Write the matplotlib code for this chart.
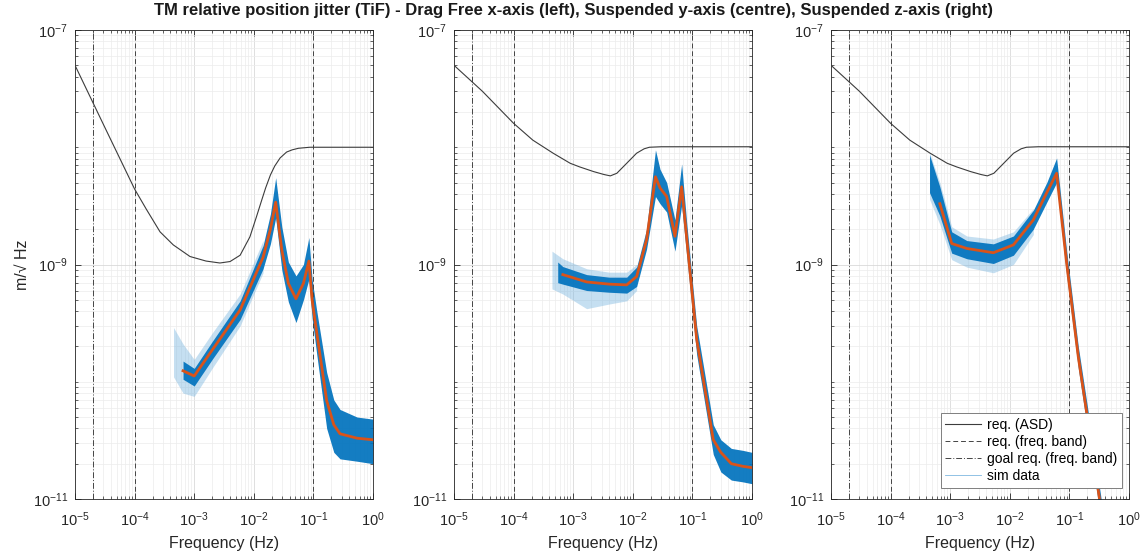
import matplotlib
matplotlib.use("Agg")
import matplotlib.pyplot as plt
from matplotlib.lines import Line2D
from matplotlib.ticker import LogLocator, NullFormatter, FixedLocator

plt.rcParams['font.family'] = ['Liberation Sans', 'DejaVu Sans']
plt.rcParams['mathtext.default'] = 'regular'

# ---------------- data ----------------
# requirement ASD (x-axis, drag free)
req_x_f = [1e-5, 3.16e-5, 1e-4, 1.58e-4, 2.67e-4, 4.45e-4, 8.5e-4, 1.58e-3, 2.7e-3, 4.0e-3, 5.9e-3, 8.6e-3,
           0.0111, 0.0136, 0.0158, 0.019, 0.0224, 0.0276, 0.0355, 0.044, 0.056, 0.087, 1.0]
req_x_v = [5.0e-8, 1.48e-8, 4.4e-9, 2.95e-9, 1.9e-9, 1.47e-9, 1.17e-9, 1.07e-9, 1.03e-9, 1.06e-9, 1.2e-9, 1.72e-9,
           2.56e-9, 3.55e-9, 4.5e-9, 5.8e-9, 6.9e-9, 8.1e-9, 9.1e-9, 9.5e-9, 9.8e-9, 1.0e-8, 1.0e-8]
# requirement ASD (suspended y / z axes)
req_yz_f = [1e-5, 3e-5, 1e-4, 2.1e-4, 4.6e-4, 8.9e-4, 1.28e-3, 2.2e-3, 3.3e-3, 4.2e-3, 5.4e-3, 7.9e-3,
            0.0116, 0.0155, 0.019, 0.03, 1.0]
req_yz_v = [5.0e-8, 3.0e-8, 1.6e-8, 1.15e-8, 8.9e-9, 7.3e-9, 6.8e-9, 6.2e-9, 5.85e-9, 5.7e-9, 6.0e-9, 7.3e-9,
            8.9e-9, 9.7e-9, 1.0e-8, 1.01e-8, 1.01e-8]

# frequency band limits
req_band = [1e-4, 1e-1]
goal_band = [2e-5, 1.0]

# panel 1 (x) mean of simulations
p1_f = [6.5e-4, 1.0e-3, 2e-3, 5.9e-3, 0.0143, 0.019, 0.0233, 0.0295, 0.038, 0.051, 0.068, 0.084,
        0.095, 0.114, 0.167, 0.22, 0.28, 0.54, 1.0]
p1_v = [1.24e-10, 1.12e-10, 1.86e-10, 4.1e-10, 1.15e-9, 2.0e-9, 3.4e-9, 1.33e-9, 6.9e-10, 5.1e-10, 6.9e-10, 1.07e-9,
        5.0e-10, 2.6e-10, 6.9e-11, 4.3e-11, 3.6e-11, 3.3e-11, 3.2e-11]
# panel 1 simulation spread
p1_bf = [6.5e-4, 1.0e-3, 2e-3, 5.9e-3, 0.0143, 0.019, 0.0233, 0.0295, 0.038, 0.051, 0.068, 0.084,
         0.095, 0.114, 0.167, 0.22, 0.28, 0.54, 1.0]
p1_hi = [1.5e-10, 1.3e-10, 2.2e-10, 4.9e-10, 1.45e-9, 2.7e-9, 5.5e-9, 2.1e-9, 1.05e-9, 8.0e-10, 1.0e-9, 1.7e-9,
         7.5e-10, 4.0e-10, 1.2e-10, 7.0e-11, 5.8e-11, 5.0e-11, 4.8e-11]
p1_lo = [1.05e-10, 9.2e-11, 1.55e-10, 3.4e-10, 9.2e-10, 1.5e-9, 2.5e-9, 9.0e-10, 4.8e-10, 3.2e-10, 5.0e-10, 7.5e-10,
         3.5e-10, 1.7e-10, 4.0e-11, 2.5e-11, 2.2e-11, 2.1e-11, 2.0e-11]
p1_of = [4.5e-4, 6.5e-4, 1e-3, 2e-3, 5.9e-3, 0.0143]
p1_ohi = [2.9e-10, 2.1e-10, 1.55e-10, 2.6e-10, 5.6e-10, 1.6e-9]
p1_olo = [1.1e-10, 8.0e-11, 7.5e-11, 1.3e-10, 3.0e-10, 8.5e-10]

# panel 2 (y)
p2_f = [6.7e-4, 1.68e-3, 4e-3, 7.9e-3, 0.0116, 0.017, 0.024, 0.0286, 0.037, 0.051, 0.066, 0.080,
        0.118, 0.224, 0.3, 0.45, 0.7, 1.0]
p2_v = [8.2e-10, 7.1e-10, 6.8e-10, 6.7e-10, 7.9e-10, 1.62e-9, 5.6e-9, 4.5e-9, 3.8e-9, 1.74e-9, 4.6e-9, 1.7e-9,
        2.3e-10, 3.2e-11, 2.5e-11, 2.0e-11, 1.9e-11, 1.85e-11]
p2_bf = [5.5e-4, 6.7e-4, 1.68e-3, 4e-3, 7.9e-3, 0.0116, 0.017, 0.024, 0.0286, 0.037, 0.051, 0.066, 0.080,
         0.118, 0.224, 0.3, 0.45, 0.7, 1.0]
p2_hi = [1.05e-9, 9.6e-10, 8.2e-10, 7.8e-10, 7.8e-10, 9.5e-10, 2.0e-9, 9.5e-9, 6.5e-9, 5.0e-9, 2.4e-9, 7.2e-9, 2.3e-9,
         3.0e-10, 4.3e-11, 3.2e-11, 2.7e-11, 2.6e-11, 2.5e-11]
p2_lo = [7.0e-10, 6.8e-10, 6.0e-10, 5.8e-10, 5.7e-10, 6.5e-10, 1.35e-9, 3.8e-9, 3.3e-9, 2.8e-9, 1.3e-9, 3.2e-9, 1.2e-9,
         1.7e-10, 2.4e-11, 1.7e-11, 1.45e-11, 1.4e-11, 1.35e-11]
p2_of = [4.4e-4, 6.7e-4, 1.68e-3, 4e-3, 7.9e-3, 0.0116]
p2_ohi = [1.3e-9, 1.12e-9, 9.2e-10, 8.6e-10, 8.6e-10, 1.0e-9]
p2_olo = [6.2e-10, 5.6e-10, 4.2e-10, 4.6e-10, 4.9e-10, 6.0e-10]

# panel 3 (z)
p3_f = [6.7e-4, 1.06e-3, 1.9e-3, 5.3e-3, 0.0115, 0.0248, 0.0417, 0.061, 0.090, 0.141, 0.2, 0.32, 1.0]
p3_v = [3.3e-9, 1.51e-9, 1.37e-9, 1.26e-9, 1.47e-9, 2.4e-9, 4.1e-9, 6.0e-9, 1.02e-9, 1.63e-10, 5.0e-11, 1.0e-11, 2e-13]
p3_bf = [4.5e-4, 6.7e-4, 1.06e-3, 1.9e-3, 5.3e-3, 0.0115, 0.0248, 0.0417, 0.061, 0.090, 0.141, 0.2, 0.32, 1.0]
p3_hi = [8.6e-9, 4.6e-9, 1.9e-9, 1.6e-9, 1.5e-9, 1.75e-9, 2.9e-9, 5.0e-9, 8.1e-9, 1.3e-9, 2.0e-10, 6.2e-11, 1.25e-11, 2.5e-13]
p3_lo = [4.1e-9, 2.6e-9, 1.25e-9, 1.12e-9, 1.02e-9, 1.2e-9, 2.0e-9, 3.4e-9, 5.0e-9, 8.0e-10, 1.3e-10, 4.0e-11, 8e-12, 1.6e-13]
p3_of = [4.5e-4, 6.7e-4, 1.06e-3, 1.9e-3, 5.3e-3, 0.0115, 0.0248]
p3_ohi = [9.0e-9, 5.0e-9, 2.1e-9, 1.75e-9, 1.65e-9, 1.9e-9, 3.0e-9]
p3_olo = [3.6e-9, 2.2e-9, 1.1e-9, 9.5e-10, 8.5e-10, 1.0e-9, 1.8e-9]

x_ticks = [1e-5, 1e-4, 1e-3, 1e-2, 1e-1, 1e0]
x_tick_labels = [r'$10^{-5}$', r'$10^{-4}$', r'$10^{-3}$', r'$10^{-2}$', r'$10^{-1}$', r'$10^{0}$']
y_ticks = [1e-11, 1e-9, 1e-7]
y_tick_labels = [r'$10^{-11}$', r'$10^{-9}$', r'$10^{-7}$']

title = ("TM relative position jitter (TiF) - Drag Free x-axis (left), "
         "Suspended y-axis (centre), Suspended z-axis (right)")

# ---------------- style ----------------
BLUE = '#0072BD'
LIGHTBLUE = '#7fb8e0'
RED = '#D95319'
REQC = '#3c3c3c'
BANDC = '#444444'

W, H = 1147, 555
fig = plt.figure(figsize=(W / 100, H / 100), dpi=100)

lefts = [75, 454, 831]
ax_w = 298
top, bottom = 30, 499

panels = [
    (req_x_f, req_x_v, p1_f, p1_v, p1_bf, p1_lo, p1_hi, p1_of, p1_olo, p1_ohi),
    (req_yz_f, req_yz_v, p2_f, p2_v, p2_bf, p2_lo, p2_hi, p2_of, p2_olo, p2_ohi),
    (req_yz_f, req_yz_v, p3_f, p3_v, p3_bf, p3_lo, p3_hi, p3_of, p3_olo, p3_ohi),
]

axes = []
for i, (rf, rv, mf, mv, bf, blo, bhi, of, olo, ohi) in enumerate(panels):
    ax = fig.add_axes([lefts[i] / W, (H - bottom) / H, ax_w / W, (bottom - top) / H])
    axes.append(ax)
    ax.set_xscale('log')
    ax.set_yscale('log')
    ax.set_xlim(1e-5, 1.0)
    ax.set_ylim(1e-11, 1e-7)

    # grids
    ax.set_axisbelow(True)
    ax.grid(True, which='major', color='#d9d9d9', lw=0.6)
    ax.grid(True, which='minor', color='#ececec', lw=0.5)

    # simulation spread
    ax.fill_between(of, olo, ohi, color=LIGHTBLUE, alpha=0.45, lw=0)
    ax.fill_between(bf, blo, bhi, color=BLUE, alpha=0.92, lw=0)
    # mean
    ax.plot(mf, mv, color=RED, lw=2.0, zorder=4)
    # requirement
    ax.plot(rf, rv, color=REQC, lw=0.8, zorder=5)
    # bands
    for b in req_band:
        ax.axvline(b, color=BANDC, lw=0.7, ls=(0, (5, 3)), zorder=3)
    for b in goal_band:
        ax.axvline(b, color=BANDC, lw=0.7, ls=(0, (6, 2, 1, 2)), zorder=3)

    ax.xaxis.set_major_locator(FixedLocator(x_ticks))
    ax.xaxis.set_minor_locator(LogLocator(base=10, subs=range(2, 10), numticks=20))
    ax.xaxis.set_minor_formatter(NullFormatter())
    ax.yaxis.set_major_locator(FixedLocator(y_ticks))
    ax.yaxis.set_minor_locator(LogLocator(base=10, subs=range(1, 10), numticks=20))
    ax.yaxis.set_minor_formatter(NullFormatter())
    ax.set_xticklabels(x_tick_labels)
    ax.set_yticklabels(y_tick_labels)
    ax.tick_params(which='both', direction='in', top=True, right=True, colors='#262626',
                   labelcolor='#262626', labelsize=10.5)
    ax.tick_params(which='major', length=4, width=0.6)
    ax.tick_params(which='minor', length=2, width=0.5)
    ax.tick_params(axis='x', which='major', pad=8)
    ax.tick_params(axis='y', which='major', pad=5)
    for s in ax.spines.values():
        s.set_color('#262626')
        s.set_linewidth(0.6)
    ax.set_xlabel('Frequency (Hz)', fontsize=11.5, color='#262626', labelpad=5)

axes[0].set_ylabel('m/\u221a Hz', fontsize=11.5, color='#262626', labelpad=2)

handles = [
    Line2D([], [], color=REQC, lw=0.8),
    Line2D([], [], color=BANDC, lw=0.7, ls=(0, (5, 3))),
    Line2D([], [], color=BANDC, lw=0.7, ls=(0, (6, 2, 1, 2))),
    Line2D([], [], color=LIGHTBLUE, lw=0.6),
]
labels = ['req. (ASD)', 'req. (freq. band)', 'goal req. (freq. band)', 'sim data']
leg = axes[2].legend(handles, labels, loc='lower right', bbox_to_anchor=(0.977, 0.023),
                     borderaxespad=0, fontsize=10, handlelength=2.6, handletextpad=0.4,
                     labelspacing=0.22, borderpad=0.35, fancybox=False, framealpha=1,
                     edgecolor='#7f7f7f')
leg.get_frame().set_linewidth(0.7)
leg.set_zorder(10)

fig.text(0.5, 1 - 10 / H, title, ha='center', va='center', fontsize=12, fontweight='bold',
         family=['Liberation Sans Narrow', 'Liberation Sans'], color='#1a1a1a')

fig.savefig('out.png', dpi=100, facecolor='white')
